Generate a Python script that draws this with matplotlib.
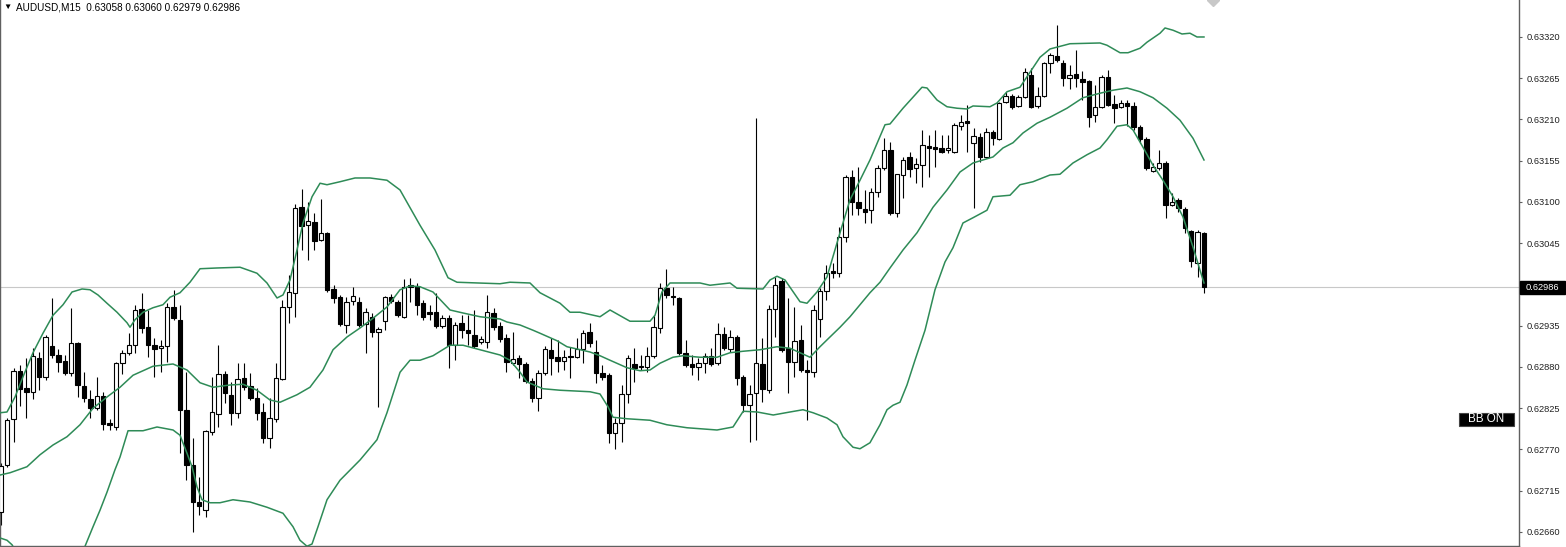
import numpy as np
import matplotlib
matplotlib.use("Agg")
from matplotlib import pyplot as plt
from matplotlib.patches import Rectangle

plt.rcParams['font.family'] = ['Liberation Sans', 'DejaVu Sans']

# AUDUSD M15 bars, oldest first
opens = [0.62687, 0.62749, 0.62811, 0.62875, 0.62852, 0.62847, 0.62892, 0.62867, 0.62908, 0.62896,
         0.62888, 0.62872, 0.62912, 0.62855, 0.62837, 0.62825, 0.62841, 0.62805, 0.62800, 0.62885,
         0.62899, 0.62909, 0.62957, 0.62933, 0.62909, 0.62905, 0.62908, 0.62960, 0.62943, 0.62823,
         0.62749, 0.62700, 0.62689, 0.62793, 0.62817, 0.62871, 0.62843, 0.62819, 0.62865, 0.62855,
         0.62839, 0.62820, 0.62785, 0.62811, 0.62864, 0.62960, 0.62979, 0.63093, 0.63069, 0.63073,
         0.63049, 0.63059, 0.62984, 0.62973, 0.62936, 0.62968, 0.62967, 0.62937, 0.62947, 0.62927,
         0.62941, 0.62973, 0.62967, 0.62947, 0.62989, 0.62988, 0.62965, 0.62953, 0.62953, 0.62935,
         0.62945, 0.62909, 0.62939, 0.62929, 0.62923, 0.62913, 0.62913, 0.62952, 0.62935, 0.62919,
         0.62885, 0.62892, 0.62884, 0.62861, 0.62839, 0.62872, 0.62903, 0.62893, 0.62888, 0.62895,
         0.62893, 0.62904, 0.62927, 0.62900, 0.62872, 0.62869, 0.62792, 0.62805, 0.62844, 0.62884,
         0.62881, 0.62880, 0.62895, 0.62932, 0.62985, 0.62975, 0.62972, 0.62899, 0.62884, 0.62880,
         0.62885, 0.62895, 0.62885, 0.62924, 0.62904, 0.62920, 0.62867, 0.62829, 0.62845, 0.62884,
         0.62849, 0.62957, 0.62995, 0.62905, 0.62887, 0.62916, 0.62876, 0.62873, 0.62944, 0.62981,
         0.63008, 0.63005, 0.63053, 0.63133, 0.63100, 0.63091, 0.63089, 0.63113, 0.63145, 0.63169,
         0.63085, 0.63136, 0.63160, 0.63145, 0.63149, 0.63175, 0.63173, 0.63172, 0.63169, 0.63167,
         0.63201, 0.63208, 0.63179, 0.63187, 0.63160, 0.63193, 0.63184, 0.63233, 0.63241, 0.63228,
         0.63240, 0.63269, 0.63228, 0.63241, 0.63285, 0.63295, 0.63285, 0.63265, 0.63271, 0.63264,
         0.63261, 0.63216, 0.63227, 0.63267, 0.63231, 0.63227, 0.63232, 0.63228, 0.63200, 0.63184,
         0.63141, 0.63145, 0.63152, 0.63096, 0.63103, 0.63091, 0.63061, 0.63019, 0.63058]
highs = [0.62752, 0.62812, 0.62879, 0.62883, 0.62892, 0.62905, 0.62900, 0.62923, 0.62972, 0.62904,
         0.62896, 0.62959, 0.62913, 0.62873, 0.62849, 0.62867, 0.62847, 0.62811, 0.62887, 0.62903,
         0.62925, 0.62963, 0.62979, 0.62956, 0.62919, 0.62916, 0.62965, 0.62983, 0.62963, 0.62873,
         0.62785, 0.62733, 0.62796, 0.62867, 0.62909, 0.62875, 0.62860, 0.62885, 0.62885, 0.62872,
         0.62852, 0.62832, 0.62839, 0.62885, 0.62969, 0.63003, 0.63097, 0.63117, 0.63100, 0.63085,
         0.63104, 0.63060, 0.62989, 0.62976, 0.62973, 0.62987, 0.62973, 0.62959, 0.62952, 0.62933,
         0.62975, 0.62977, 0.62969, 0.62997, 0.62999, 0.62992, 0.62969, 0.62963, 0.62979, 0.62949,
         0.62949, 0.62940, 0.62949, 0.62949, 0.62956, 0.62921, 0.62976, 0.62959, 0.62940, 0.62924,
         0.62927, 0.62896, 0.62887, 0.62865, 0.62876, 0.62908, 0.62919, 0.62916, 0.62903, 0.62907,
         0.62919, 0.62929, 0.62939, 0.62916, 0.62883, 0.62872, 0.62812, 0.62856, 0.62896, 0.62905,
         0.62896, 0.62907, 0.62949, 0.62992, 0.63011, 0.62987, 0.62973, 0.62916, 0.62896, 0.62892,
         0.62899, 0.62905, 0.62939, 0.62933, 0.62929, 0.62923, 0.62869, 0.62856, 0.63212, 0.62919,
         0.62963, 0.63000, 0.62999, 0.62972, 0.62960, 0.62936, 0.62889, 0.62963, 0.62985, 0.63016,
         0.63019, 0.63067, 0.63136, 0.63143, 0.63147, 0.63116, 0.63119, 0.63149, 0.63185, 0.63180,
         0.63137, 0.63160, 0.63167, 0.63159, 0.63196, 0.63189, 0.63196, 0.63189, 0.63189, 0.63205,
         0.63216, 0.63229, 0.63199, 0.63192, 0.63199, 0.63196, 0.63233, 0.63247, 0.63244, 0.63243,
         0.63279, 0.63279, 0.63253, 0.63287, 0.63299, 0.63336, 0.63289, 0.63283, 0.63303, 0.63275,
         0.63263, 0.63256, 0.63269, 0.63276, 0.63243, 0.63236, 0.63236, 0.63233, 0.63203, 0.63187,
         0.63152, 0.63169, 0.63155, 0.63112, 0.63105, 0.63093, 0.63063, 0.63063, 0.63060]
lows = [0.62669, 0.62747, 0.62780, 0.62828, 0.62812, 0.62837, 0.62849, 0.62863, 0.62892, 0.62873,
        0.62869, 0.62868, 0.62840, 0.62833, 0.62812, 0.62823, 0.62796, 0.62796, 0.62796, 0.62871,
        0.62896, 0.62899, 0.62925, 0.62893, 0.62867, 0.62873, 0.62887, 0.62943, 0.62765, 0.62729,
        0.62660, 0.62683, 0.62680, 0.62789, 0.62800, 0.62832, 0.62803, 0.62812, 0.62849, 0.62836,
        0.62809, 0.62779, 0.62772, 0.62807, 0.62863, 0.62939, 0.62947, 0.63036, 0.63023, 0.63036,
        0.63048, 0.62980, 0.62965, 0.62935, 0.62925, 0.62963, 0.62933, 0.62899, 0.62920, 0.62827,
        0.62929, 0.62965, 0.62947, 0.62945, 0.62967, 0.62949, 0.62943, 0.62943, 0.62932, 0.62932,
        0.62879, 0.62889, 0.62919, 0.62909, 0.62905, 0.62911, 0.62905, 0.62929, 0.62913, 0.62873,
        0.62883, 0.62865, 0.62859, 0.62833, 0.62821, 0.62869, 0.62869, 0.62873, 0.62876, 0.62865,
        0.62892, 0.62885, 0.62907, 0.62859, 0.62863, 0.62779, 0.62771, 0.62780, 0.62832, 0.62860,
        0.62876, 0.62873, 0.62892, 0.62925, 0.62972, 0.62963, 0.62896, 0.62880, 0.62869, 0.62863,
        0.62872, 0.62881, 0.62883, 0.62903, 0.62900, 0.62856, 0.62820, 0.62780, 0.62783, 0.62833,
        0.62845, 0.62920, 0.62900, 0.62845, 0.62867, 0.62873, 0.62809, 0.62867, 0.62920, 0.62969,
        0.62999, 0.63000, 0.63047, 0.63083, 0.63083, 0.63072, 0.63072, 0.63107, 0.63143, 0.63083,
        0.63080, 0.63105, 0.63133, 0.63125, 0.63120, 0.63133, 0.63147, 0.63165, 0.63165, 0.63165,
        0.63196, 0.63167, 0.63092, 0.63153, 0.63159, 0.63176, 0.63183, 0.63232, 0.63224, 0.63227,
        0.63239, 0.63225, 0.63225, 0.63240, 0.63272, 0.63287, 0.63255, 0.63251, 0.63253, 0.63236,
        0.63200, 0.63207, 0.63225, 0.63228, 0.63205, 0.63225, 0.63201, 0.63196, 0.63179, 0.63143,
        0.63140, 0.63143, 0.63079, 0.63095, 0.63087, 0.63059, 0.63013, 0.63000, 0.62979]
closes = [0.62748, 0.62809, 0.62875, 0.62851, 0.62847, 0.62895, 0.62867, 0.62920, 0.62896, 0.62887,
          0.62872, 0.62912, 0.62856, 0.62839, 0.62825, 0.62841, 0.62804, 0.62803, 0.62885, 0.62899,
          0.62909, 0.62956, 0.62932, 0.62909, 0.62904, 0.62908, 0.62960, 0.62945, 0.62823, 0.62749,
          0.62700, 0.62695, 0.62795, 0.62820, 0.62871, 0.62845, 0.62819, 0.62864, 0.62853, 0.62839,
          0.62819, 0.62785, 0.62812, 0.62865, 0.62960, 0.62980, 0.63092, 0.63068, 0.63075, 0.63048,
          0.63059, 0.62983, 0.62972, 0.62937, 0.62967, 0.62975, 0.62936, 0.62953, 0.62927, 0.62931,
          0.62973, 0.62968, 0.62949, 0.62987, 0.62987, 0.62963, 0.62947, 0.62951, 0.62935, 0.62945,
          0.62909, 0.62936, 0.62929, 0.62925, 0.62908, 0.62917, 0.62953, 0.62933, 0.62917, 0.62887,
          0.62891, 0.62884, 0.62861, 0.62839, 0.62872, 0.62904, 0.62892, 0.62888, 0.62893, 0.62893,
          0.62904, 0.62925, 0.62912, 0.62872, 0.62867, 0.62792, 0.62805, 0.62844, 0.62892, 0.62879,
          0.62880, 0.62895, 0.62933, 0.62985, 0.62976, 0.62973, 0.62899, 0.62883, 0.62880, 0.62885,
          0.62895, 0.62884, 0.62924, 0.62905, 0.62920, 0.62865, 0.62829, 0.62844, 0.62885, 0.62851,
          0.62957, 0.62989, 0.62903, 0.62887, 0.62915, 0.62876, 0.62873, 0.62956, 0.62981, 0.63005,
          0.63005, 0.63053, 0.63133, 0.63100, 0.63092, 0.63087, 0.63113, 0.63145, 0.63169, 0.63085,
          0.63137, 0.63156, 0.63144, 0.63151, 0.63176, 0.63172, 0.63171, 0.63167, 0.63172, 0.63203,
          0.63207, 0.63205, 0.63188, 0.63160, 0.63193, 0.63185, 0.63232, 0.63241, 0.63227, 0.63240,
          0.63273, 0.63227, 0.63241, 0.63285, 0.63296, 0.63289, 0.63265, 0.63269, 0.63265, 0.63260,
          0.63213, 0.63227, 0.63267, 0.63229, 0.63225, 0.63232, 0.63228, 0.63200, 0.63184, 0.63145,
          0.63147, 0.63152, 0.63096, 0.63100, 0.63092, 0.63065, 0.63021, 0.63060, 0.62986]

# Bollinger bands, read at these bar positions
bb_up_bar = [-0.1, 0.97, 2.22, 3.47, 5.03, 6.59, 8.16, 9.72, 11.13, 12.69, 13.94, 15.19, 16.59, 18.16,
             19.72, 20.19, 20.97, 22.22, 23.78, 25.34, 26.44, 28.0, 29.56, 31.13, 33.78, 37.38, 40.03,
             41.59, 43.16, 44.09, 45.19, 46.28, 47.22, 48.63, 49.88, 50.97, 53.0, 55.34, 57.69, 60.34,
             62.38, 65.5, 67.84, 69.88, 71.28, 74.56, 78.0, 79.56, 82.69, 84.25, 87.38, 88.94, 90.5,
             93.63, 95.19, 98.31, 101.44, 102.22, 103.31, 104.56, 109.25, 110.81, 113.94, 115.03,
             119.09, 120.19, 121.28, 122.53, 124.88, 125.97, 127.53, 129.09, 131.13, 132.69, 134.25,
             135.81, 138.16, 138.94, 140.97, 143.94, 144.72, 146.28, 147.84, 149.41, 150.97, 151.91,
             154.56, 155.66, 157.22, 159.25, 162.38, 163.94, 167.06, 171.75, 172.84, 174.88, 176.13,
             178.0, 179.09, 181.13, 181.91, 183.16, 184.56, 185.81, 186.91, 188.0]
bb_up = [0.62819, 0.62820, 0.62840, 0.62867, 0.62899, 0.62925, 0.62949, 0.62963, 0.62980, 0.62984,
         0.62983, 0.62976, 0.62965, 0.62953, 0.62939, 0.62933, 0.62943, 0.62953, 0.62959, 0.62963,
         0.62973, 0.62979, 0.62993, 0.63011, 0.63012, 0.63013, 0.63005, 0.62992, 0.62972, 0.62976,
         0.62996, 0.63036, 0.63072, 0.63107, 0.63125, 0.63123, 0.63127, 0.63132, 0.63132, 0.63129,
         0.63116, 0.63069, 0.63036, 0.62999, 0.62993, 0.62992, 0.62991, 0.62993, 0.62992, 0.62979,
         0.62965, 0.62953, 0.62953, 0.62947, 0.62956, 0.62941, 0.62941, 0.62949, 0.62980, 0.62992,
         0.62992, 0.62989, 0.62992, 0.62985, 0.62984, 0.62996, 0.63001, 0.62996, 0.62967, 0.62965,
         0.62980, 0.63000, 0.63059, 0.63103, 0.63129, 0.63156, 0.63203, 0.63204, 0.63225, 0.63253,
         0.63252, 0.63236, 0.63227, 0.63225, 0.63224, 0.63228, 0.63227, 0.63232, 0.63247, 0.63253,
         0.63293, 0.63304, 0.63311, 0.63312, 0.63309, 0.63299, 0.63299, 0.63305, 0.63313, 0.63325,
         0.63332, 0.63329, 0.63324, 0.63325, 0.63320, 0.63320]
bb_mid_bar = [-0.1, 1.44, 4.09, 6.13, 8.16, 10.34, 12.38, 14.41, 16.59, 18.63, 20.66, 23.78, 26.91,
              29.09, 31.13, 33.16, 35.81, 37.84, 40.03, 42.06, 43.63, 46.28, 48.31, 50.34, 51.91,
              54.09, 56.13, 58.16, 60.34, 62.38, 63.94, 65.5, 67.53, 70.19, 72.22, 74.88, 78.0, 79.09,
              81.13, 83.16, 84.25, 86.91, 88.47, 90.03, 92.06, 93.63, 95.19, 97.84, 99.88, 101.44,
              103.0, 105.03, 106.59, 109.25, 111.91, 113.94, 116.0, 118.63, 121.28, 123.31, 124.88,
              126.44, 128.0, 129.56, 131.13, 132.69, 134.25, 135.81, 137.38, 138.94, 140.97, 143.16,
              145.66, 147.84, 149.88, 151.91, 155.03, 156.59, 158.16, 159.72, 161.91, 163.94, 166.59,
              169.09, 171.75, 173.78, 175.97, 178.0, 180.03, 182.22, 184.25, 186.28, 188.0]
bb_mid = [0.62736, 0.62739, 0.62747, 0.62763, 0.62776, 0.62787, 0.62803, 0.62825, 0.62840, 0.62853,
          0.62869, 0.62881, 0.62884, 0.62876, 0.62859, 0.62853, 0.62856, 0.62857, 0.62849, 0.62836,
          0.62833, 0.62843, 0.62853, 0.62876, 0.62903, 0.62920, 0.62932, 0.62945, 0.62960, 0.62983,
          0.62988, 0.62987, 0.62980, 0.62956, 0.62952, 0.62947, 0.62944, 0.62940, 0.62936, 0.62929,
          0.62925, 0.62915, 0.62907, 0.62904, 0.62900, 0.62895, 0.62889, 0.62879, 0.62875, 0.62876,
          0.62885, 0.62893, 0.62895, 0.62893, 0.62893, 0.62899, 0.62901, 0.62903, 0.62907, 0.62905,
          0.62899, 0.62893, 0.62907, 0.62920, 0.62933, 0.62947, 0.62963, 0.62979, 0.62993, 0.63012,
          0.63036, 0.63059, 0.63093, 0.63116, 0.63140, 0.63152, 0.63160, 0.63172, 0.63179, 0.63192,
          0.63205, 0.63213, 0.63225, 0.63239, 0.63245, 0.63249, 0.63252, 0.63247, 0.63239, 0.63225,
          0.63209, 0.63185, 0.63156]
bb_low_bar = [-0.1, 0.97, 1.75, 4.56, 7.69, 10.81, 13.16, 14.41, 15.5, 16.59, 17.84, 18.63, 19.88,
              22.22, 24.41, 26.91, 28.0, 29.09, 29.88, 30.66, 31.44, 32.69, 34.25, 36.28, 38.94, 41.59,
              44.09, 45.66, 46.75, 47.84, 48.63, 49.56, 50.97, 53.0, 56.13, 58.78, 60.34, 62.38, 63.94,
              65.5, 67.53, 70.19, 72.22, 74.88, 78.0, 79.56, 81.13, 82.22, 84.72, 87.38, 92.06, 93.63,
              94.88, 95.66, 97.84, 101.44, 104.06, 107.22, 111.91, 114.41, 116.0, 118.19, 120.69,
              123.31, 125.34, 126.91, 129.09, 130.66, 131.59, 133.16, 134.25, 135.81, 137.38, 138.47,
              139.41, 140.5, 141.59, 142.84, 144.41, 145.97, 147.53, 148.78, 150.34, 151.91, 154.09,
              155.03, 157.69, 159.25, 161.28, 163.94, 165.5, 167.53, 169.72, 171.75, 172.84, 174.41,
              175.97, 176.91, 178.47, 180.03, 181.59, 183.16, 184.72, 186.28, 187.38, 188.0]
bb_low = [0.62652, 0.62649, 0.62643, 0.62603, 0.62589, 0.62609, 0.62641, 0.62667, 0.62689, 0.62713,
          0.62743, 0.62760, 0.62795, 0.62795, 0.62800, 0.62796, 0.62789, 0.62765, 0.62747, 0.62720,
          0.62703, 0.62699, 0.62699, 0.62703, 0.62700, 0.62693, 0.62685, 0.62667, 0.62649, 0.62641,
          0.62644, 0.62667, 0.62703, 0.62729, 0.62756, 0.62783, 0.62819, 0.62873, 0.62889, 0.62889,
          0.62895, 0.62909, 0.62909, 0.62903, 0.62896, 0.62889, 0.62873, 0.62860, 0.62851, 0.62849,
          0.62847, 0.62844, 0.62827, 0.62813, 0.62811, 0.62809, 0.62803, 0.62799, 0.62796, 0.62800,
          0.62821, 0.62820, 0.62816, 0.62820, 0.62823, 0.62819, 0.62812, 0.62803, 0.62787, 0.62773,
          0.62771, 0.62779, 0.62803, 0.62823, 0.62829, 0.62833, 0.62856, 0.62889, 0.62929, 0.62983,
          0.63020, 0.63039, 0.63072, 0.63079, 0.63089, 0.63107, 0.63109, 0.63123, 0.63127, 0.63136,
          0.63137, 0.63152, 0.63163, 0.63172, 0.63183, 0.63201, 0.63203, 0.63196, 0.63173, 0.63149,
          0.63129, 0.63107, 0.63080, 0.63040, 0.63009, 0.62992]

price_ticks = [0.63320, 0.63265, 0.63210, 0.63155, 0.63100, 0.63045, 0.62990,
               0.62935, 0.62880, 0.62825, 0.62770, 0.62715, 0.62660]
last_price = 0.62986
title = "AUDUSD,M15  0.63058 0.63060 0.62979 0.62986"

W, H = 1566, 547
fig = plt.figure(figsize=(W / 100, H / 100), dpi=100)
fig.patch.set_facecolor('white')
ax = fig.add_axes([0, 1.5 / H, 1519 / W, 545.5 / H])

o = np.array(opens)
h = np.array(highs)
l = np.array(lows)
c = np.array(closes)
x = np.arange(len(o))
up = c >= o

# current price line
ax.axhline(last_price, color='#c8c8c8', lw=0.8, zorder=0)

# candles: wick behind, body on top
ax.vlines(x, l, h, color='black', lw=0.8, zorder=2)
ax.bar(x, np.abs(c - o), width=0.66, bottom=np.minimum(o, c),
       color=np.where(up, 'white', 'black'), edgecolor='black', linewidth=0.8, zorder=3)

# bollinger bands
green = '#2e8b57'
ax.plot(bb_up_bar, bb_up, color=green, lw=1.1, zorder=4)
ax.plot(bb_mid_bar, bb_mid, color=green, lw=1.1, zorder=4)
ax.plot(bb_low_bar, bb_low, color=green, lw=1.1, zorder=4)

ax.set_xlim(-0.125, 237.22)
ax.set_ylim(0.62642, 0.633693)
ax.set_xticks([])
ax.yaxis.tick_right()
ax.set_yticks(price_ticks)
ax.set_yticklabels(['%.5f' % v for v in price_ticks])
ax.tick_params(axis='y', direction='out', length=2.5, width=0.8, color='#606060',
               labelsize=6.7, labelcolor='#222222', pad=3)
for s in ['left', 'right', 'bottom']:
    ax.spines[s].set_color('#606060')
    ax.spines[s].set_linewidth(1.0)
ax.spines['top'].set_visible(False)

# price tag on the axis
yt = ax.get_yaxis_transform()
tag_h = 13 * (0.633693 - 0.62642) / 545.5
ax.add_patch(Rectangle((1520 / 1519, last_price - tag_h / 2), 45 / 1519, tag_h,
                       transform=yt, facecolor='black', edgecolor='black', clip_on=False, zorder=6))
ax.text(1542.5 / 1519, last_price, '%.5f' % last_price, transform=yt, ha='center', va='center',
        fontsize=6.7, color='white', clip_on=False, zorder=7)

# BB ON label
ax.add_patch(Rectangle((1459 / 1519, 119.5 / 545.5), 55 / 1519, 13 / 545.5,
                       transform=ax.transAxes, facecolor='black', edgecolor='#444444',
                       lw=0.8, zorder=6))
ax.text(1486.5 / 1519, 126 / 545.5, 'BB ON', transform=ax.transAxes, ha='center', va='center',
        fontsize=8.4, color='white', zorder=7)

# chart shift marker
ax.plot([1213 / 1519], [1.0], marker='D', ms=6, color='#c8c8c8', transform=ax.transAxes,
        clip_on=True, zorder=5)

# header
fig.text(3 / W, 1 - 7.5 / H, '\u25bc', fontsize=6, va='center', ha='left', color='black')
fig.text(16 / W, 1 - 7.5 / H, title, fontsize=7.2, va='center', ha='left', color='black')

fig.savefig('out.png', dpi=100, facecolor='white')
